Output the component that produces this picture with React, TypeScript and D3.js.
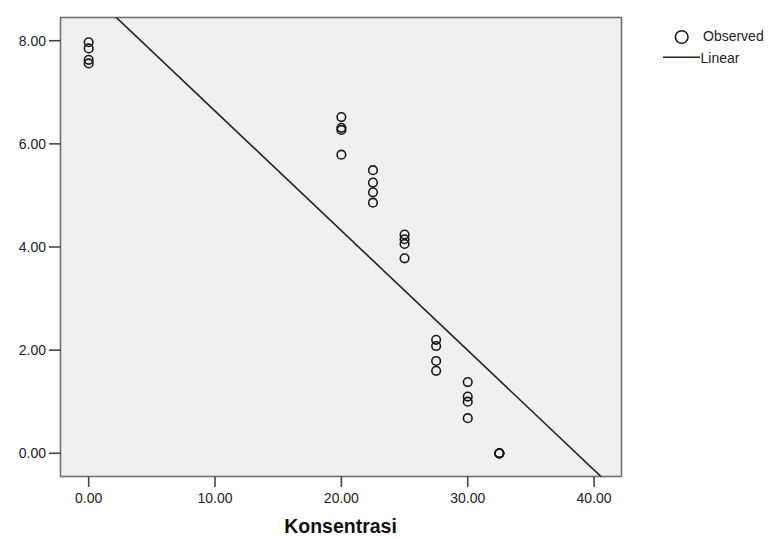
import React from "react";
import * as d3 from "d3";

const width = 777;
const height = 539;

// Konsentrasi levels and the observed responses (4 replicates each)
const konsentrasi = [0, 20, 22.5, 25, 27.5, 30, 32.5];
const observed = [
  [7.97, 7.85, 7.63, 7.56],
  [6.52, 6.31, 6.27, 5.79],
  [5.49, 5.25, 5.06, 4.86],
  [4.24, 4.15, 4.06, 3.78],
  [2.2, 2.08, 1.79, 1.6],
  [1.38, 1.1, 1.0, 0.68],
  [0, 0, 0, 0],
];
const xTicks = [0, 10, 20, 30, 40];
const yTicks = [0, 2, 4, 6, 8];

const points = konsentrasi.flatMap((k, i) => observed[i].map((v) => ({ x: k, y: v })));

// least squares fit for the "Linear" line
const mx = d3.mean(points, (d) => d.x) as number;
const my = d3.mean(points, (d) => d.y) as number;
const sxy = d3.sum(points, (d) => (d.x - mx) * (d.y - my));
const sxx = d3.sum(points, (d) => (d.x - mx) ** 2);
const slope = sxy / sxx;
const intercept = my - slope * mx;

const frame = { left: 60.5, top: 17.5, right: 621.5, bottom: 476.5 };

const x = d3.scaleLinear().domain([-2.23, 42.17]).range([frame.left, frame.right]);
const y = d3.scaleLinear().domain([-0.45, 8.45]).range([frame.bottom, frame.top]);

const App = () => {
  const fitLine = d3
    .line<number>()
    .x((d) => x(d))
    .y((d) => y(intercept + slope * d))(x.domain());

  const font = "'Liberation Sans', Arial, sans-serif";

  return (
    <svg
      width={width}
      height={height}
      style={{ position: "absolute", left: 0, top: 0, background: "#fff" }}
      fontFamily={font}
    >
      <defs>
        <clipPath id="plot">
          <rect
            x={frame.left}
            y={frame.top}
            width={frame.right - frame.left}
            height={frame.bottom - frame.top}
          />
        </clipPath>
      </defs>
      <rect
        x={frame.left}
        y={frame.top}
        width={frame.right - frame.left}
        height={frame.bottom - frame.top}
        fill="#f0f0f0"
        stroke="#707070"
        strokeWidth={1.6}
      />

      {/* y axis */}
      {yTicks.map((t) => (
        <g key={t}>
          <line x1={49} x2={frame.left} y1={y(t)} y2={y(t)} stroke="#444" strokeWidth={1.6} />
          <text x={46} y={y(t)} dy="0.36em" textAnchor="end" fontSize={14} fill="#222">
            {t.toFixed(2)}
          </text>
        </g>
      ))}

      {/* x axis */}
      {xTicks.map((t) => (
        <g key={t}>
          <line x1={x(t)} x2={x(t)} y1={frame.bottom} y2={487} stroke="#444" strokeWidth={1.6} />
          <text x={x(t)} y={502.5} textAnchor="middle" fontSize={14} fill="#222">
            {t.toFixed(2)}
          </text>
        </g>
      ))}
      <text
        x={(frame.left + frame.right) / 2 - 0.5}
        y={533}
        textAnchor="middle"
        fontSize={19.5}
        fontWeight="bold"
        fill="#111"
      >
        Konsentrasi
      </text>

      <g clipPath="url(#plot)">
        <path d={fitLine ?? ""} fill="none" stroke="#222" strokeWidth={1.6} />
        {points.map((p, i) => (
          <circle
            key={i}
            cx={x(p.x)}
            cy={y(p.y)}
            r={4.3}
            fill="none"
            stroke="#1a1a1a"
            strokeWidth={1.6}
          />
        ))}
      </g>

      {/* legend */}
      <circle cx={681.7} cy={37} r={6.3} fill="none" stroke="#1a1a1a" strokeWidth={1.6} />
      <text x={703} y={36} dy="0.36em" fontSize={14} fill="#222">
        Observed
      </text>
      <line x1={663} x2={700} y1={57.3} y2={57.3} stroke="#222" strokeWidth={1.6} />
      <text x={700.5} y={57.5} dy="0.36em" fontSize={14} fill="#222">
        Linear
      </text>
    </svg>
  );
};

export default App;
